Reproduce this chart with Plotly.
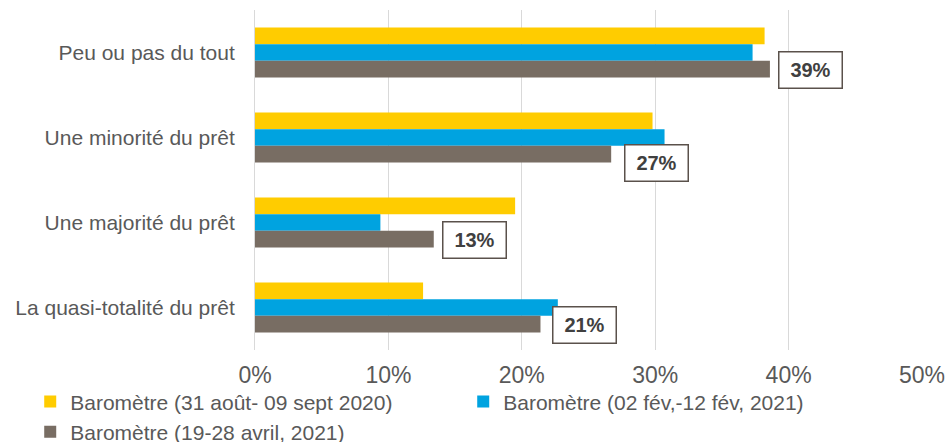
import plotly.graph_objects as go

categories = ["Peu ou pas du tout", "Une minorité du prêt", "Une majorité du prêt", "La quasi-totalité du prêt"]
series_names = ["Baromètre (31 août- 09 sept 2020)", "Baromètre (02 fév,-12 fév, 2021)", "Baromètre (19-28 avril, 2021)"]
values_sept2020 = [38.2, 29.8, 19.5, 12.6]
values_fev2021 = [37.3, 30.7, 9.4, 22.7]
values_avril2021 = [38.6, 26.7, 13.4, 21.4]
tick_vals = [0, 10, 20, 30, 40, 50]
tick_text = ["0%", "10%", "20%", "30%", "40%", "50%"]

colors = ["#FFCC00", "#00A3E0", "#786D63"]
FONT = "Liberation Sans, Arial, sans-serif"

# pixel nudges of the value boxes (as placed by hand in the original)
label_nudge_x = [0, 5, 0, 4]
label_nudge_y = [0, -8, 0, 0]

fig = go.Figure()
for name, vals, col in zip(series_names, [values_sept2020, values_fev2021, values_avril2021], colors):
    fig.add_trace(go.Bar(
        y=categories, x=vals, name=name, orientation="h",
        marker=dict(color=col, line=dict(width=0)),
        hoverinfo="x+name",
    ))

for cat, v, nx, ny in zip(categories, values_avril2021, label_nudge_x, label_nudge_y):
    fig.add_annotation(
        x=v, y=cat, xref="x", yref="y",
        text=f"<b>{round(v)}%</b>", showarrow=False,
        xanchor="left", yanchor="middle", xshift=8 + nx, yshift=-17 + ny,
        font=dict(family=FONT, size=20, color="#404040"),
        bordercolor="#5a514b", borderwidth=1.5, borderpad=3,
        bgcolor="white", width=56, height=29,
    )

fig.update_layout(
    width=949, height=442,
    margin=dict(l=255, r=27, t=10, b=92, autoexpand=False),
    paper_bgcolor="white", plot_bgcolor="white",
    barmode="group", bargap=0.41, bargroupgap=0,
    font=dict(family=FONT, size=21, color="#595959"),
    xaxis=dict(
        range=[0, 50], tickvals=tick_vals, ticktext=tick_text,
        showgrid=True, gridcolor="#D9D9D9", gridwidth=1,
        zeroline=False, showline=False, ticks="",
        tickfont=dict(size=23, color="#595959"),
        ticklabelstandoff=9, fixedrange=True, automargin=False,
    ),
    yaxis=dict(
        autorange="reversed", showgrid=False, zeroline=False,
        showline=True, linecolor="#D9D9D9", linewidth=1, ticks="",
        tickfont=dict(size=21, color="#595959"), ticklabelstandoff=15,
        fixedrange=True, automargin=False,
    ),
    legend=dict(
        orientation="h", xref="paper", yref="paper",
        x=-0.337, y=-0.092, xanchor="left", yanchor="top",
        entrywidth=388, entrywidthmode="pixels",
        font=dict(size=21, color="#595959"),
        itemwidth=30, tracegroupgap=0,
        bgcolor="rgba(0,0,0,0)",
    ),
    showlegend=True,
)

fig.write_html("out.html", config={"displayModeBar": False},
               post_script="document.body.style.margin='0';")
